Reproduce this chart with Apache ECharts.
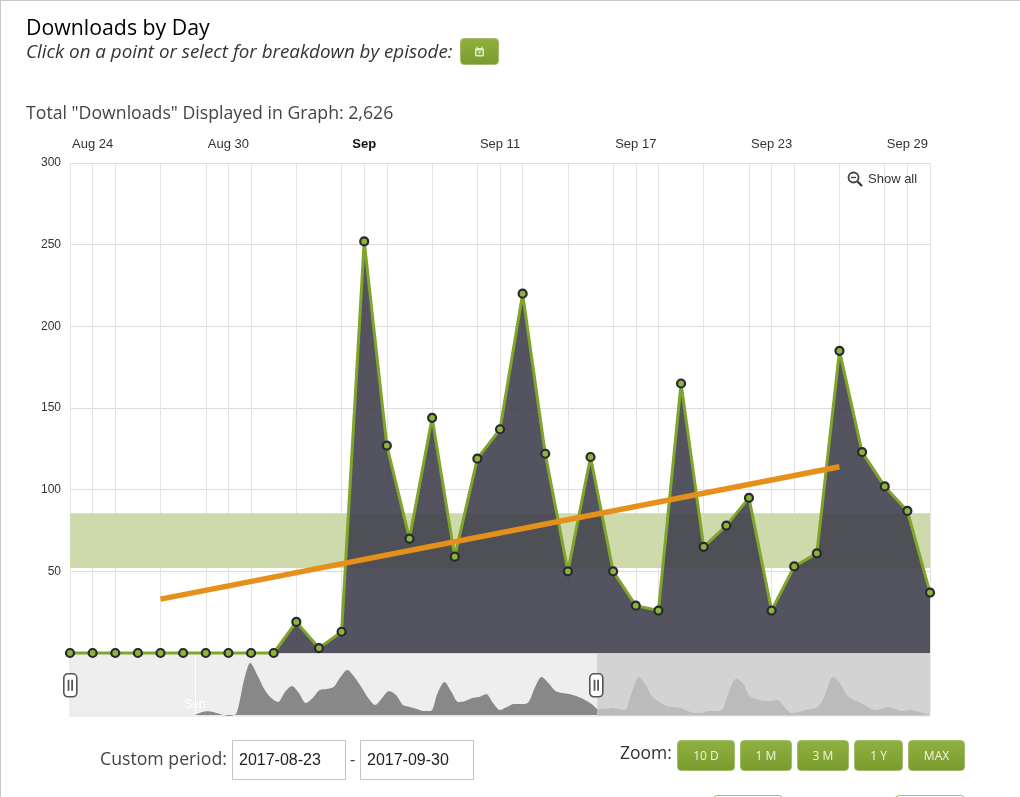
<!DOCTYPE html>
<html>
<head>
<meta charset="utf-8">
<title>Downloads by Day</title>
<script src="https://cdn.jsdelivr.net/npm/echarts@6/dist/echarts.min.js"></script>
<style>
	html, body { margin: 0; padding: 0; background: #fff; }
	#page { position: relative; width: 1020px; height: 797px; overflow: hidden; font-family: "Open Sans", sans-serif; color: #333; border-top: 1px solid #c8c8c8; border-left: 1px solid #c8c8c8; box-sizing: border-box; }
	#chart { position: absolute; left: -1px; top: -1px; width: 1020px; height: 797px; }
	.txt { position: absolute; white-space: nowrap; line-height: 24px; }
	.btn { position: absolute; box-sizing: border-box; border-radius: 4px; border: 1px solid #a3bd6b; background: linear-gradient(#8fb03e, #7a9c2e); color: #f1f4e2; font-size: 12px; text-align: center; }
	.box { position: absolute; box-sizing: border-box; width: 114px; height: 40px; top: 739px; border: 1px solid #c4c4c4; font: 16px/38px "Liberation Sans", sans-serif; padding-left: 6px; color: #222; }
	.stub { position: absolute; top: 794px; height: 8px; box-sizing: border-box; border: 1px solid #a9bf72; border-radius: 4px; }
</style>
</head>
<body>
<div id="page">
	<div id="chart"></div>
	<div class="txt" style="left:25px;top:14px;font-size:21.3px;color:#000;">Downloads by Day</div>
	<div class="txt" style="left:25px;top:38px;font-size:18.8px;font-style:italic;">Click on a point or select for breakdown by episode:</div>
	<div class="btn" style="left:459px;top:37px;width:39px;height:27px;">
		<svg width="11" height="11" viewBox="0 0 11 11" style="margin-top:7px"><path d="M3 0.5V3M8 0.5V3" stroke="#e3ebc6" stroke-width="1.2"/><rect x="1" y="2" width="9" height="8.5" rx="1.5" fill="#e3ebc6"/><rect x="2.5" y="4.5" width="6" height="4.5" fill="#87a838"/><rect x="4.5" y="5.5" width="2" height="2" fill="#e3ebc6"/></svg>
	</div>
	<div class="txt" style="left:25px;top:99px;font-size:17.7px;color:#444;">Total "Downloads" Displayed in Graph: 2,626</div>
	<div class="txt" style="left:867px;top:166px;font:13px/24px 'Liberation Sans',sans-serif;">Show all</div>
	<svg style="position:absolute;left:846px;top:170px" width="17" height="17" viewBox="0 0 17 17"><circle cx="6.5" cy="6.5" r="5" fill="none" stroke="#444" stroke-width="1.8"/><path d="M4 6.5H9" stroke="#444" stroke-width="1.4"/><path d="M10.5 10.5L15 15" stroke="#333" stroke-width="2.2"/></svg>
	<div class="txt" style="left:99px;top:745px;font-size:17.7px;color:#444;">Custom period:</div>
	<div class="box" style="left:231px;">2017-08-23</div>
	<div class="txt" style="left:349px;top:746px;font-size:16px;">-</div>
	<div class="box" style="left:359px;">2017-09-30</div>
	<div class="txt" style="left:619px;top:739px;font-size:17.5px;color:#333;">Zoom:</div>
	<div class="btn" style="left:676px;top:739px;width:58px;height:31px;line-height:29px;">10 D</div>
	<div class="btn" style="left:739px;top:739px;width:52px;height:31px;line-height:29px;">1 M</div>
	<div class="btn" style="left:796px;top:739px;width:52px;height:31px;line-height:29px;">3 M</div>
	<div class="btn" style="left:853px;top:739px;width:49px;height:31px;line-height:29px;">1 Y</div>
	<div class="btn" style="left:907px;top:739px;width:57px;height:31px;line-height:29px;">MAX</div>
	<div class="stub" style="left:712px;width:70px;"></div>
	<div class="stub" style="left:894px;width:70px;"></div>
</div>
<script>
// days shown in the main graph, Aug 23 - Sep 30
var days = ['Aug 23','Aug 24','Aug 25','Aug 26','Aug 27','Aug 28','Aug 29','Aug 30','Aug 31','Sep 1','Sep 2','Sep 3','Sep 4','Sep 5','Sep 6','Sep 7','Sep 8','Sep 9','Sep 10','Sep 11','Sep 12','Sep 13','Sep 14','Sep 15','Sep 16','Sep 17','Sep 18','Sep 19','Sep 20','Sep 21','Sep 22','Sep 23','Sep 24','Sep 25','Sep 26','Sep 27','Sep 28','Sep 29','Sep 30'];
var downloads = [0,0,0,0,0,0,0,0,0,0,19,3,13,252,127,70,144,59,119,137,220,122,50,120,50,29,26,165,65,78,95,26,53,61,185,123,102,87,37];

// x axis labels, by index in days
var tickDays = [1,7,13,19,25,31,37];
var tickLabels = ['Aug 24','Aug 30','Sep','Sep 11','Sep 17','Sep 23','Sep 29'];
var gridDays = [0,1,2,4,6,7,8,10,12,13,14,16,18,19,20,22,24,25,26,28,30,31,32,34,36,37,38];

// trend line ends
var trendDays = ['Aug 27','Sep 26'];
var trendValues = [33,114];

// green band
var bandLow = 52;
var bandHigh = 85.5;

// navigator below the graph, two values a day; the first part is selected
var navDays = [];
var navSelected = [null,null,null,null,null,null,null,null,null,null,null,null,null,null,null,null,null,null,0,2.7,3.7,2.3,0.3,-1,1.7,32,52,40,26,17,13,23,29,22,12,17,25,26,28,38,45,38,28,17,10,17,24,20,10,8,6,4,4,22,33,23,13,14,17,18,21,12,5,8,11,11,12,27,38,32,24,22,21,19,16,12,6];
var navRest = [6,6,7,6,5,22,38,30,18,13,9,8,7,4,2,2,4,4,5,23,36,32,19,16,14,14,15,8,2,3,5,6,9,23,38,32,20,15,12,8,5,6,8,6,4,5,4,2,0];
var navSep = 18;

function buildNav() {
	var selected = [];
	var rest = [];
	var total = navSelected.length + navRest.length - 1;
	for (var i = 0; i < total; i++) {
		navDays[i] = i == navSep ? 'Sep' : '';
		selected[i] = i < navSelected.length ? navSelected[i] : null;
		rest[i] = i >= navSelected.length - 1 ? navRest[i - navSelected.length + 1] : null;
	}
	return { selected: selected, rest: rest };
}

function handle(left) {
	return {
		type: 'group',
		left: left,
		top: 673,
		children: [
			{ type: 'rect', z: 50, shape: { x: 0, y: 0, width: 13, height: 23, r: 4 }, style: { fill: '#fff', stroke: '#555', lineWidth: 1.6 } },
			{ type: 'rect', z: 51, shape: { x: 3.8, y: 6, width: 1.8, height: 11 }, style: { fill: '#555' } },
			{ type: 'rect', z: 51, shape: { x: 7.4, y: 6, width: 1.8, height: 11 }, style: { fill: '#555' } }
		]
	};
}

function initChart() {
	var nav = buildNav();
	var myChart = echarts.init(document.getElementById('chart'));
	myChart.setOption({
		animation: false,
		textStyle: { fontFamily: '"Liberation Sans", Arial, sans-serif' },
		grid: [
			{ left: 70, top: 163, width: 860, height: 490 },
			{ left: 70, top: 653, width: 860, height: 63, show: true, backgroundColor: '#eeeeee', borderColor: '#e2e2e2', borderWidth: 1 }
		],
		xAxis: [
			{
				type: 'category',
				gridIndex: 0,
				position: 'top',
				boundaryGap: false,
				data: days,
				axisLine: { show: false },
				axisTick: { show: false },
				axisLabel: {
					color: '#333',
					fontSize: 13,
					margin: 12,
					interval: function (i) { return tickDays.indexOf(i) >= 0; },
					formatter: function (value, i) {
						var label = tickLabels[tickDays.indexOf(i)];
						return label == 'Sep' ? '{b|' + label + '}' : label;
					},
					rich: { b: { fontWeight: 'bold', fontSize: 13, color: '#111' } }
				},
				splitLine: {
					show: true,
					interval: function (i) { return gridDays.indexOf(i) >= 0; },
					lineStyle: { color: '#e3e3e3' }
				}
			},
			{
				type: 'category',
				gridIndex: 1,
				boundaryGap: false,
				data: navDays,
				axisLine: { show: false },
				axisTick: { show: false },
				axisLabel: {
					inside: true,
					color: '#fff',
					fontSize: 12,
					margin: 5,
					interval: function (i) { return i == navSep; }
				},
				splitLine: {
					show: true,
					interval: function (i) { return i == navSep; },
					lineStyle: { color: '#fff' }
				}
			}
		],
		yAxis: [
			{
				type: 'value',
				gridIndex: 0,
				min: 0,
				max: 300,
				interval: 50,
				axisLine: { show: false },
				axisTick: { show: false },
				axisLabel: {
					color: '#333',
					fontSize: 12,
					margin: 9,
					formatter: function (v) { return v == 0 ? '' : v; }
				},
				splitLine: { lineStyle: { color: '#dcdcdc' } }
			},
			{ type: 'value', gridIndex: 1, min: -1, max: 62, show: false }
		],
		series: [
			{
				name: 'band',
				type: 'line',
				z: 1,
				data: [],
				markArea: {
					silent: true,
					itemStyle: { color: '#cedaab' },
					data: [[{ yAxis: bandLow }, { yAxis: bandHigh }]]
				}
			},
			{
				name: 'Downloads',
				type: 'line',
				z: 3,
				clip: false,
				data: downloads,
				symbol: 'circle',
				symbolSize: 8,
				showAllSymbol: true,
				lineStyle: { color: '#7fa62a', width: 3 },
				itemStyle: { color: '#8fb238', borderColor: '#262933', borderWidth: 2.2 },
				areaStyle: { color: '#3c3c4a', opacity: 0.88 }
			},
			{
				name: 'Trend',
				type: 'line',
				z: 4,
				showSymbol: false,
				connectNulls: true,
				data: [[trendDays[0], trendValues[0]], [trendDays[1], trendValues[1]]],
				lineStyle: { color: '#e5901a', width: 5.5, cap: 'butt' }
			},
			{
				name: 'rest mask',
				type: 'line',
				xAxisIndex: 1,
				yAxisIndex: 1,
				z: 1,
				data: [],
				markArea: {
					silent: true,
					itemStyle: { color: '#d3d3d3' },
					data: [[{ xAxis: navSelected.length - 1 }, { xAxis: navDays.length - 1 }]]
				}
			},
			{
				name: 'selected',
				type: 'line',
				xAxisIndex: 1,
				yAxisIndex: 1,
				z: 2,
				smooth: 0.3,
				showSymbol: false,
				data: nav.selected,
				lineStyle: { width: 0 },
				areaStyle: { color: '#888888', opacity: 1 }
			},
			{
				name: 'rest',
				type: 'line',
				xAxisIndex: 1,
				yAxisIndex: 1,
				z: 2,
				smooth: 0.3,
				showSymbol: false,
				data: nav.rest,
				lineStyle: { width: 0 },
				areaStyle: { color: '#bbbbbb', opacity: 1 }
			}
		],
		graphic: [handle(63), handle(589)]
	});
}

initChart();
</script>
</body>
</html>
